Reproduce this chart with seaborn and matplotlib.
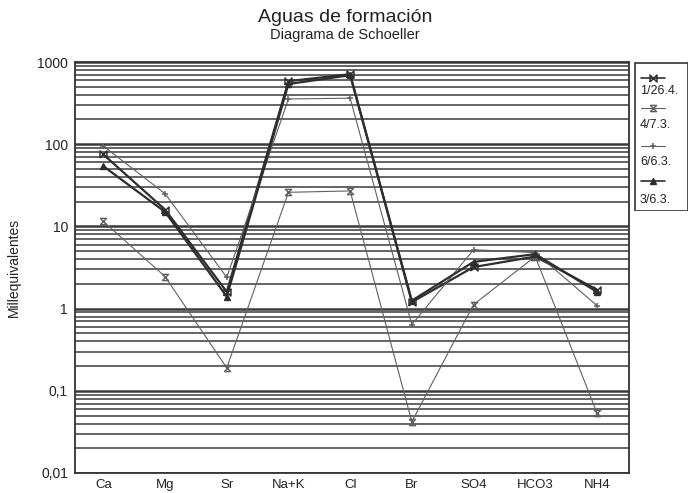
import matplotlib
matplotlib.use("Agg")
import matplotlib.pyplot as plt
import seaborn as sns
import numpy as np
import pandas as pd
from matplotlib.ticker import LogLocator, FixedLocator, NullFormatter
from matplotlib.lines import Line2D
from matplotlib.patches import Rectangle

# ---------------- data ----------------
ions = ["Ca", "Mg", "Sr", "Na+K", "Cl", "Br", "SO4", "HCO3", "NH4"]
s_1_26_4 = [75, 16, 1.6, 585, 710, 1.2, 3.2, 4.3, 1.7]
s_4_7_3 = [11.5, 2.45, 0.19, 26, 27, 0.042, 1.12, 4.3, 0.054]
s_6_6_3 = [95, 25, 2.4, 355, 363, 0.64, 5.2, 4.8, 1.09]
s_3_6_3 = [54, 15, 1.4, 540, 690, 1.25, 3.7, 4.6, 1.6]
series_labels = ["1/26.4.", "4/7.3.", "6/6.3.", "3/6.3."]
ytick_vals = [0.01, 0.1, 1, 10, 100, 1000]
ytick_labels = ["0,01", "0,1", "1", "10", "100", "1000"]

df = pd.DataFrame({
    "ion": ions * 4,
    "pos": list(range(len(ions))) * 4,
    "value": s_1_26_4 + s_4_7_3 + s_6_6_3 + s_3_6_3,
    "serie": sum([[lab] * len(ions) for lab in series_labels], []),
})

# ---------------- style ----------------
sns.set_style("white")
plt.rcParams["font.family"] = ["Liberation Sans", "DejaVu Sans"]

bowtie = [(-1, -1), (1, 1), (1, -1), (-1, 1), (-1, -1)]
hourglass = [(-1, -1), (1, 1), (-1, 1), (1, -1), (-1, -1)]
styles = {
    "1/26.4.": dict(color="#2e2e2e", lw=1.6, marker=bowtie, ms=5, mfc="none", mew=1.1),
    "4/7.3.": dict(color="#606060", lw=0.8, marker=hourglass, ms=4.5, mfc="none", mew=1.0),
    "6/6.3.": dict(color="#606060", lw=0.8, marker="+", ms=5, mfc="none", mew=1.1),
    "3/6.3.": dict(color="#2e2e2e", lw=1.6, marker="^", ms=5, mfc="#2e2e2e", mew=1.0),
}

fig = plt.figure(figsize=(6.91, 4.93), dpi=100)
ax = fig.add_axes([75 / 691, 20 / 493, (629 - 75) / 691, (473 - 62) / 493])

for lab in series_labels:
    st = styles[lab]
    sub = df[df["serie"] == lab]
    sns.lineplot(data=sub, x="pos", y="value", ax=ax, sort=False,
                 color=st["color"], linewidth=st["lw"], marker=st["marker"],
                 markersize=st["ms"], markerfacecolor=st["mfc"],
                 markeredgecolor=st["color"], markeredgewidth=st["mew"],
                 legend=False, zorder=3)

ax.set_yscale("log")
ax.set_ylim(0.01, 1000)
ax.set_xlim(-0.46, 8.52)

# grid lines at every 1..9 of each decade
ax.yaxis.set_major_locator(FixedLocator(ytick_vals))
ax.set_yticklabels(ytick_labels)
ax.yaxis.set_minor_locator(LogLocator(base=10, subs=np.arange(2, 10)))
ax.yaxis.set_minor_formatter(NullFormatter())
ax.grid(True, which="major", axis="y", color="#3a3a3a", lw=1.8)
ax.grid(True, which="minor", axis="y", color="#4a4a4a", lw=1.2)
ax.set_axisbelow(True)

ax.set_xticks(range(len(ions)))
ax.set_xticklabels(ions)
ax.tick_params(axis="x", which="major", direction="out", length=3.5, width=1,
               color="#333333", labelsize=9.5, pad=0.5, labelcolor="#222222")
ax.tick_params(axis="y", which="major", direction="out", length=4, width=1,
               color="#333333", labelsize=10, pad=1, labelcolor="#222222")
ax.tick_params(axis="y", which="minor", length=0)
for sp in ax.spines.values():
    sp.set_color("#333333")
    sp.set_linewidth(1.3)
ax.set_xlabel("")
ax.set_ylabel("Millequivalentes", fontsize=10, color="#222222")
ax.yaxis.set_label_coords(-0.098, 0.5)

fig.text(345 / 691, 1 - 17 / 493, "Aguas de formación", ha="center", va="center",
         fontsize=14, color="#222222")
fig.text(345 / 691, 1 - 35 / 493, "Diagrama de Schoeller", ha="center", va="center",
         fontsize=10.5, color="#222222")

# ---------------- legend (handle above label) ----------------
lx0, lx1, ly0, ly1 = 634, 688, 62, 211
lax = fig.add_axes([lx0 / 691, 1 - ly1 / 493, (lx1 - lx0) / 691, (ly1 - ly0) / 493])
lax.set_xlim(lx0, lx1)
lax.set_ylim(ly1, ly0)
lax.axis("off")
lax.add_patch(Rectangle((lx0 + 0.5, ly0 + 0.5), lx1 - lx0 - 1, ly1 - ly0 - 1,
                        fill=False, ec="#333333", lw=1.2))
handle_y = [78, 108, 146, 181]
text_y = [91, 125, 162, 200]
for lab, hy, ty in zip(series_labels, handle_y, text_y):
    st = styles[lab]
    lax.add_line(Line2D([641, 665], [hy, hy], color=st["color"], lw=min(st["lw"], 1.2)))
    lax.add_line(Line2D([653], [hy], color=st["color"], lw=0, marker=st["marker"],
                        markersize=st["ms"], markerfacecolor=st["mfc"],
                        markeredgecolor=st["color"], markeredgewidth=st["mew"]))
    lax.text(640, ty, lab, fontsize=9, va="center", ha="left", color="#222222")

fig.savefig("out.png", dpi=100, facecolor="white")
